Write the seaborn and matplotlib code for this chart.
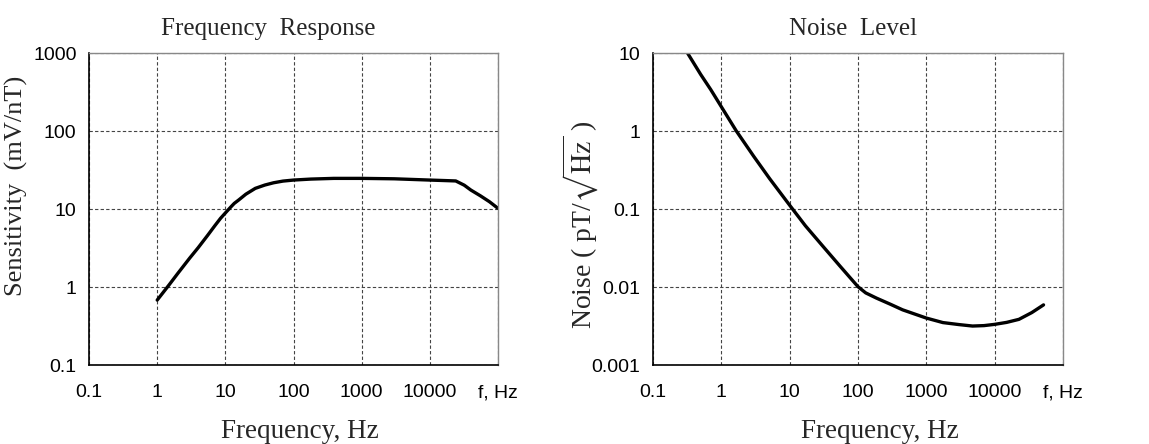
import numpy as np
import pandas as pd
import seaborn as sns
import matplotlib.pyplot as plt
from matplotlib.ticker import NullLocator

# data
sens_freq = [1, 1.5, 2, 3, 4, 5.5, 7, 8.5, 10, 12, 13.5, 15.6, 20, 27.5, 38, 51, 70, 100, 180, 390, 1000, 3000, 10000, 18000, 24000, 32000, 40000, 55000, 75000, 100000]
sens_val = [0.68, 1.07, 1.49, 2.35, 3.2, 4.6, 6.1, 7.6, 8.9, 10.6, 11.8, 13, 15.5, 18.4, 20.3, 21.7, 22.8, 23.5, 24.2, 24.7, 24.7, 24.4, 23.5, 23.1, 22.9, 20.2, 17.5, 14.8, 12.4, 10.2]

noise_freq = [0.32, 0.5, 0.7, 1, 1.66, 3, 5.1, 10, 17, 30.6, 55, 100, 130, 187, 300, 450, 1000, 1750, 3000, 4750, 7000, 10000, 15000, 22700, 35000, 52000]
noise_val = [10, 5.3, 3.4, 2.05, 1.0, 0.47, 0.245, 0.112, 0.061, 0.0334, 0.0184, 0.0101, 0.0084, 0.0072, 0.006, 0.0051, 0.004, 0.0035, 0.0033, 0.00316, 0.0032, 0.00332, 0.00352, 0.00385, 0.0047, 0.0059]

x_ticks = [0.1, 1, 10, 100, 1000, 10000, 100000]
x_labels = ["0.1", "1", "10", "100", "1000", "10000", "f, Hz"]
sens_ticks = [0.1, 1, 10, 100, 1000]
sens_labels = ["0.1", "1", "10", "100", "1000"]
noise_ticks = [0.001, 0.01, 0.1, 1, 10]
noise_labels = ["0.001", "0.01", "0.1", "1", "10"]

sns.set_theme(style="white")
plt.rcParams['font.family'] = ['Liberation Serif', 'DejaVu Serif']
plt.rcParams['mathtext.fontset'] = 'stix'

fig = plt.figure(figsize=(11.49, 4.44), dpi=100)
ax1 = fig.add_axes([0.0775, 0.1779, 0.3559, 0.7027])
ax2 = fig.add_axes([0.5683, 0.1779, 0.3568, 0.7027])

TICK_FONT = dict(family='Liberation Sans', size=14)
LABEL_SIZE = 19.5


def style_axis(ax, yticks, ylabels, ylim):
    ax.set_xscale('log')
    ax.set_yscale('log')
    ax.set_xlim(0.1, 100000)
    ax.set_ylim(*ylim)
    ax.set_xticks(x_ticks)
    ax.set_xticklabels(x_labels, **TICK_FONT)
    ax.set_yticks(yticks)
    ax.set_yticklabels(ylabels, **TICK_FONT)
    ax.xaxis.set_minor_locator(NullLocator())
    ax.yaxis.set_minor_locator(NullLocator())
    ax.tick_params(length=0, colors='black')
    ax.tick_params(axis='x', pad=14)
    ax.tick_params(axis='y', pad=9)
    ax.grid(True, which='major', color='#444444', linestyle=(0, (3, 2)), linewidth=0.8)
    for side in ['left', 'bottom']:
        ax.spines[side].set_color('black')
        ax.spines[side].set_linewidth(1.2)
    for side in ['top', 'right']:
        ax.spines[side].set_color('#888888')
        ax.spines[side].set_linewidth(1.0)
    ax.set_facecolor('white')


sens_df = pd.DataFrame({'f': sens_freq, 'v': sens_val})
noise_df = pd.DataFrame({'f': noise_freq, 'v': noise_val})

sns.lineplot(data=sens_df, x='f', y='v', ax=ax1, color='black', linewidth=2.4, sort=False)
sns.lineplot(data=noise_df, x='f', y='v', ax=ax2, color='black', linewidth=2.4, sort=False)

style_axis(ax1, sens_ticks, sens_labels, (0.1, 1000))
style_axis(ax2, noise_ticks, noise_labels, (0.001, 10))

ax1.set_title('Frequency  Response', fontsize=18, x=0.438, pad=13)
ax2.set_title('Noise  Level', fontsize=18, x=0.488, pad=13)

ax1.set_xlabel('Frequency, Hz', fontsize=LABEL_SIZE)
ax2.set_xlabel('Frequency, Hz', fontsize=LABEL_SIZE)
ax1.xaxis.set_label_coords(0.516, -0.172)
ax2.xaxis.set_label_coords(0.554, -0.172)

ax1.set_ylabel('Sensitivity  (mV/nT)', fontsize=19)
ax2.set_ylabel(r'Noise ( pT/$\sqrt{\mathrm{Hz}}$ )', fontsize=20)
ax1.yaxis.set_label_coords(-0.15, 0.574)
ax2.yaxis.set_label_coords(-0.128, 0.45)

fig.savefig('out.png', dpi=100, facecolor='white')
plt.close(fig)
